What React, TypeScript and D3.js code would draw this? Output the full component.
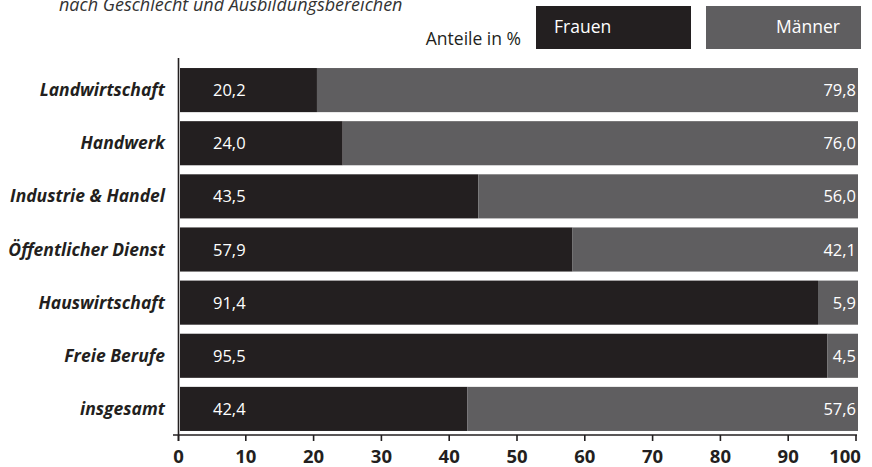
import React from "react";
import * as d3 from "d3";

const categories = [
  "Landwirtschaft",
  "Handwerk",
  "Industrie & Handel",
  "Öffentlicher Dienst",
  "Hauswirtschaft",
  "Freie Berufe",
  "insgesamt",
];
const frauen = [20.2, 24.0, 43.5, 57.9, 91.4, 95.5, 42.4];
const maenner = [79.8, 76.0, 56.0, 42.1, 5.9, 4.5, 57.6];
const ticks = [0, 10, 20, 30, 40, 50, 60, 70, 80, 90, 100];
const subtitle = "nach Geschlecht und Ausbildungsbereichen";
const legendTitle = "Anteile in %";
const seriesNames = ["Frauen", "Männer"];

const BLACK = "#231f20";
const GRAY = "#5f5e60";
const FONT = "'Open Sans', 'Noto Sans', sans-serif";

const fmt = (v: number) => v.toFixed(1).replace(".", ",");

export default function App() {
  const W = 872;
  const H = 467;
  const x = d3.scaleLinear().domain([0, 100]).range([180, 858]);
  const y = d3
    .scaleBand<string>()
    .domain(categories)
    .range([59, 440])
    .paddingInner(0.17)
    .paddingOuter(0.17);
  const bw = y.bandwidth();
  const axisY = 435;

  return (
    <svg
      width={W}
      height={H}
      style={{ position: "absolute", left: 0, top: 0, background: "#fff" }}
      fontFamily={FONT}
    >
      <text x={59} y={11} fontSize={18} fontStyle="italic" fill="#333">
        {subtitle}
      </text>

      {/* legend */}
      <text x={521} y={45} fontSize={17.5} fill={BLACK} textAnchor="end">
        {legendTitle}
      </text>
      <rect x={536} y={6} width={155} height={43} fill={BLACK} />
      <text x={554} y={33} fontSize={17.5} fill="#fff">
        {seriesNames[0]}
      </text>
      <rect x={706} y={6} width={155} height={43} fill={GRAY} />
      <text x={840} y={33} fontSize={17.5} fill="#fff" textAnchor="end">
        {seriesNames[1]}
      </text>

      {/* bars */}
      {categories.map((c, i) => {
        const y0 = y(c)!;
        const split = 100 - maenner[i];
        return (
          <g key={c}>
            <rect x={x(0)} y={y0} width={x(split) - x(0)} height={bw} fill={BLACK} />
            <rect x={x(split)} y={y0} width={x(100) - x(split)} height={bw} fill={GRAY} />
            <text
              x={x(0) + 33}
              y={y0 + bw / 2 + 6}
              fontSize={16.5}
              fill="#fff"
            >
              {fmt(frauen[i])}
            </text>
            <text
              x={x(100) - 2}
              y={y0 + bw / 2 + 6}
              fontSize={16.5}
              fill="#fff"
              textAnchor="end"
            >
              {fmt(maenner[i])}
            </text>
            <text
              x={165}
              y={y0 + bw / 2 + 6}
              fontSize={17.5}
              fontWeight="bold"
              fontStyle="italic"
              fill={BLACK}
              textAnchor="end"
            >
              {c}
            </text>
          </g>
        );
      })}

      {/* axes */}
      <line x1={178.5} x2={178.5} y1={58} y2={441} stroke={BLACK} strokeWidth={1.6} />
      <line x1={173} x2={857} y1={axisY} y2={axisY} stroke={BLACK} strokeWidth={1.6} />
      {ticks.map((t) => {
        const tx = t === 0 ? 178.5 : x(t) - 2;
        return (
          <g key={t}>
            <line x1={tx} x2={tx} y1={axisY} y2={axisY + 6} stroke={BLACK} strokeWidth={1.6} />
            <text
              x={t === 100 ? 845 : tx}
              y={463}
              fontSize={18.5}
              fontWeight="bold"
              fill={BLACK}
              textAnchor="middle"
            >
              {t}
            </text>
          </g>
        );
      })}
    </svg>
  );
}
